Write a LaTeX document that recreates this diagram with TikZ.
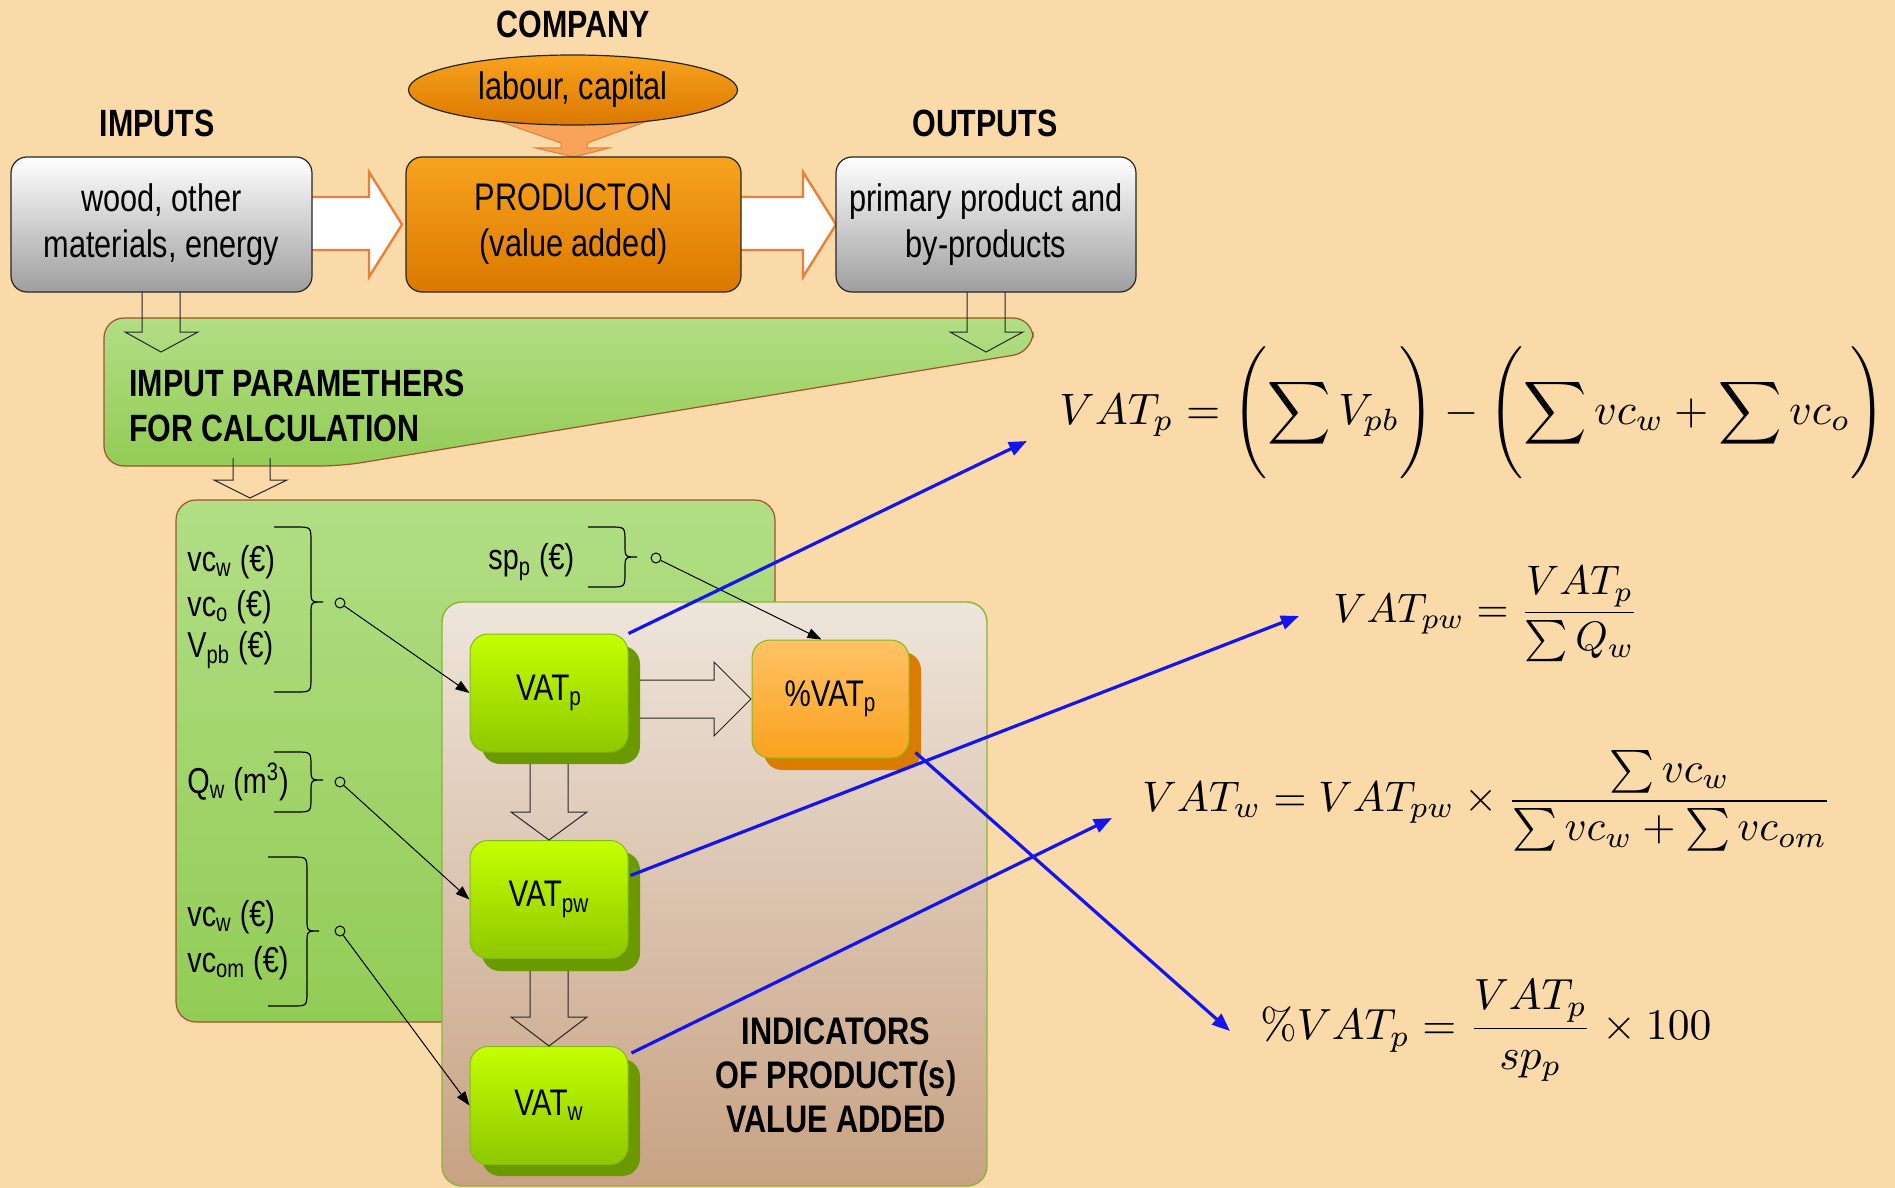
\documentclass[tikz,border=0pt]{standalone}
\usepackage[no-math]{fontspec}
\usepackage{graphicx}
\setmainfont{Liberation Sans}[FakeStretch=0.8]
\usetikzlibrary{arrows.meta,shapes.geometric}
\definecolor{bg}{HTML}{F9DAA8}
\definecolor{orTop}{HTML}{F8A31E}
\definecolor{orBot}{HTML}{DB7800}
\definecolor{funnel}{HTML}{F9A25A}
\definecolor{funnelD}{HTML}{E07E36}
\definecolor{arrOr}{HTML}{E8803A}
\definecolor{trTop}{HTML}{B2DE85}
\definecolor{trBot}{HTML}{92CC55}
\definecolor{brownB}{HTML}{A0522D}
\definecolor{indTop}{HTML}{EEE5DB}
\definecolor{indBot}{HTML}{C8A283}
\definecolor{indB}{HTML}{8DB33A}
\definecolor{vatTop}{HTML}{C4FF00}
\definecolor{vatBot}{HTML}{8EC800}
\definecolor{vatB}{HTML}{86B818}
\definecolor{vatS}{HTML}{6B9900}
\definecolor{pctTop}{HTML}{FFC266}
\definecolor{pctBot}{HTML}{F9A21E}
\definecolor{pctS}{HTML}{D97C00}
\definecolor{arrBlue}{HTML}{1414F0}
\newcommand{\sbs}[1]{\textsubscript{#1}}
\newcommand{\bigstrt}{\vrule height 1.75em depth 1.25em width 0pt}
\newcommand{\rbr}[5]{% x0, x1, ytop, ybot, ymid
  \draw[line width=0.6pt] (#1,#3) -- ({#2-15},#3) .. controls (#2,#3) .. (#2,{#3+15})
    -- (#2,{#5-12}) .. controls (#2,#5) .. ({#2+12},#5) .. controls (#2,#5) .. (#2,{#5+12})
    -- (#2,{#4-15}) .. controls (#2,#4) .. ({#2-15},#4) -- (#1,#4);}
\tikzset{
  lbl/.style={inner sep=0, align=center, font=\fontsize{19.2}{23}\selectfont},
  hd/.style={inner sep=0, align=center, font=\bfseries\fontsize{19}{22}\selectfont},
  plbl/.style={inner sep=0, anchor=west, font=\fontsize{18}{22}\selectfont},
  graybox/.style={draw=black!85, line width=0.6pt, rounded corners=8pt, top color=white, bottom color=black!38, minimum width=#1, minimum height=67.5pt, lbl},
  orbox/.style={draw=black!85, line width=0.6pt, rounded corners=8pt, top color=orTop, bottom color=orBot, minimum width=167.5pt, minimum height=67.5pt, lbl},
  vatbox/.style={draw=vatB, line width=0.5pt, rounded corners=9pt, top color=vatTop, bottom color=vatBot, minimum width=79pt, minimum height=59pt, lbl, font=\fontsize{18.5}{22}\selectfont},
  pctbox/.style={draw=vatB, line width=0.5pt, rounded corners=9pt, top color=pctTop, bottom color=pctBot, minimum width=78.5pt, minimum height=59pt, lbl, font=\fontsize{18.5}{22}\selectfont},
  harrow/.style={fill=white, draw=arrOr, line width=1.2pt, line join=miter},
  oarrow/.style={draw=black!85, line width=0.5pt},
  thinarr/.style={draw=black, line width=0.5pt, -{Triangle[length=7pt,width=5pt]}},
  bluearr/.style={draw=arrBlue, line width=1.6pt, -{Triangle[length=9pt,width=7pt]}},
  dot/.style={circle, draw=black, line width=0.5pt, inner sep=0, minimum size=5pt},
  eq/.style={anchor=west, inner sep=0}
}
\begin{document}
\begin{tikzpicture}[x=0.5pt,y=-0.5pt]
\fill[bg] (0,0) rectangle (1895,1188);
\useasboundingbox (0,0) rectangle (1895,1188);

% funnel arrow from company
\draw[fill=funnel, draw=funnelD, line width=0.5pt] (490,118) -- (656,118) -- (587,143) -- (587,148) -- (609,148) -- (574,157) -- (536,148) -- (561,148) -- (561,143) -- cycle;
% horizontal block arrows
\draw[harrow] (300,197) -- (369,197) -- (369,172) -- (402,224.5) -- (369,277) -- (369,250) -- (300,250) -- cycle;
\draw[harrow] (730,197) -- (803,197) -- (803,172) -- (836,224.5) -- (803,277) -- (803,250) -- (730,250) -- cycle;

\node[hd] (company) at (573,24) {COMPANY};
\node[ellipse, draw=black!85, line width=0.6pt, top color=orTop, bottom color=orBot, minimum width=164.5pt, minimum height=35pt, lbl] (labour) at (573,90) {labour, capital};
\node[hd] (imputs) at (157,123) {IMPUTS};
\node[hd] (outputs) at (985,123) {OUTPUTS};

\node[graybox=150.5pt] (inp) at (161.5,224.5) {wood, other\\materials, energy};
\node[orbox] (prod) at (573.5,224.5) {PRODUCTON\\(value added)};
\node[graybox=150pt] (outp) at (986,224.5) {primary product and\\by-products};

% trapezoid
\draw[top color=trTop, bottom color=trBot, draw=brownB, line width=0.6pt, rounded corners=10pt] (104,318) -- (1033,318) -- (1033,352) -- (341,466) -- (104,466) -- cycle;
\node[inner sep=0, anchor=west, align=left, font=\bfseries\fontsize{19}{22.5}\selectfont] (ipar) at (129,405.5) {IMPUT PARAMETHERS\\FOR CALCULATION};
% down arrows into trapezoid
\draw[oarrow] (142,292) -- (142,332) -- (125,332) -- (161,352) -- (198,332) -- (180,332) -- (180,292);
\draw[oarrow] (967,292) -- (967,332) -- (950,332) -- (986,352) -- (1023,332) -- (1005,332) -- (1005,292);
\draw[oarrow] (233,458) -- (233,480) -- (214,480) -- (250,498) -- (287,480) -- (270,480) -- (270,458);

% parameter box
\draw[top color=trTop, bottom color=trBot, draw=brownB, line width=0.6pt, rounded corners=10pt] (176,500) rectangle (775,1022);
% indicators box
\draw[top color=indTop, bottom color=indBot, draw=indB, line width=0.7pt, rounded corners=10pt] (442,602) rectangle (987,1186);

% shadows
\fill[vatS, rounded corners=9pt] (482,646) rectangle (640,764);
\fill[vatS, rounded corners=9pt] (482,852) rectangle (640,971);
\fill[vatS, rounded corners=9pt] (482,1059) rectangle (640,1176);
\fill[pctS, rounded corners=9pt] (764,652) rectangle (921,770);

\node[vatbox] (vatp) at (549,693) {VAT\sbs{p}};
\node[vatbox] (vatpw) at (549,899.5) {VAT\sbs{pw}};
\node[vatbox] (vatw) at (549,1105.5) {VAT\sbs{w}};
\node[pctbox] (pct) at (830.5,699) {\%VAT\sbs{p}};

% block arrows inside indicators
\draw[oarrow] (640,680) -- (714,680) -- (714,662) -- (751,699) -- (714,736) -- (714,718) -- (640,718);
\draw[oarrow] (530,764) -- (530,812) -- (511,812) -- (549,840) -- (587,812) -- (568,812) -- (568,764);
\draw[oarrow] (530,971) -- (530,1017) -- (511,1017) -- (549,1046) -- (587,1017) -- (568,1017) -- (568,971);

\node[hd, font=\bfseries\fontsize{19.2}{22}\selectfont] (ind) at (836,1075) {INDICATORS\\OF PRODUCT(s)\\VALUE ADDED};

% parameters
\node[plbl] (p1) at (187,562) {vc\sbs{w} (€)};
\node[plbl] (p2) at (187,607) {vc\sbs{o} (€)};
\node[plbl] (p3) at (187,650) {V\sbs{pb} (€)};
\node[plbl] (p4) at (187,782) {Q\sbs{w} (m\textsuperscript{3})};
\node[plbl] (p5) at (187,917) {vc\sbs{w} (€)};
\node[plbl] (p6) at (187,963) {vc\sbs{om} (€)};
\node[plbl] (p7) at (488,562) {sp\sbs{p} (€)};

\rbr{274}{311}{527}{692}{602}
\rbr{588}{625}{527}{587}{557}
\rbr{274}{311}{752}{812}{780}
\rbr{268}{307}{857}{1006}{931}

\node[dot] (c1) at (340,603) {};
\node[dot] (c2) at (656,558) {};
\node[dot] (c3) at (340,782) {};
\node[dot] (c4) at (340,931) {};

\draw[thinarr] (c1) -- (vatp.west);
\draw[thinarr] (c2) -- ([xshift=-4.5pt]pct.north);
\draw[thinarr] (c3) -- (vatpw.west);
\draw[thinarr] (c4) -- (vatw.west);

% formulas
\node[eq] (eq1) at (1059,413) {\resizebox{413pt}{!}{$\displaystyle VAT_p = \left(\bigstrt\sum V_{pb}\right) - \left(\bigstrt\sum vc_w + \sum vc_o\right)$}};
\node[eq] (eq2) at (1333,614) {\resizebox{153pt}{!}{$\displaystyle VAT_{pw} = \frac{VAT_p}{\sum Q_w}$}};
\node[eq] (eq3) at (1142,801) {\resizebox{345pt}{!}{$\displaystyle VAT_w = VAT_{pw}\times\frac{\sum vc_w}{\sum vc_w+\sum vc_{om}}$}};
\node[eq] (eq4) at (1260,1031) {\resizebox{225.5pt}{!}{$\displaystyle \%VAT_p = \frac{VAT_p}{sp_p}\times 100$}};

\coordinate (f1) at (1027,441);
\coordinate (f2) at (1299,616);
\coordinate (f3) at (1112,818);
\coordinate (f4) at (1230,1031);
\draw[bluearr] (vatp.north east) -- (f1);
\draw[bluearr] ([xshift=1pt,yshift=12pt]vatpw.east) -- (f2);
\draw[bluearr] ([xshift=1.5pt,yshift=-3.5pt]vatw.north east) -- (f3);
\draw[bluearr] ([xshift=3pt,yshift=3pt]pct.south east) -- (f4);
\end{tikzpicture}
\end{document}
